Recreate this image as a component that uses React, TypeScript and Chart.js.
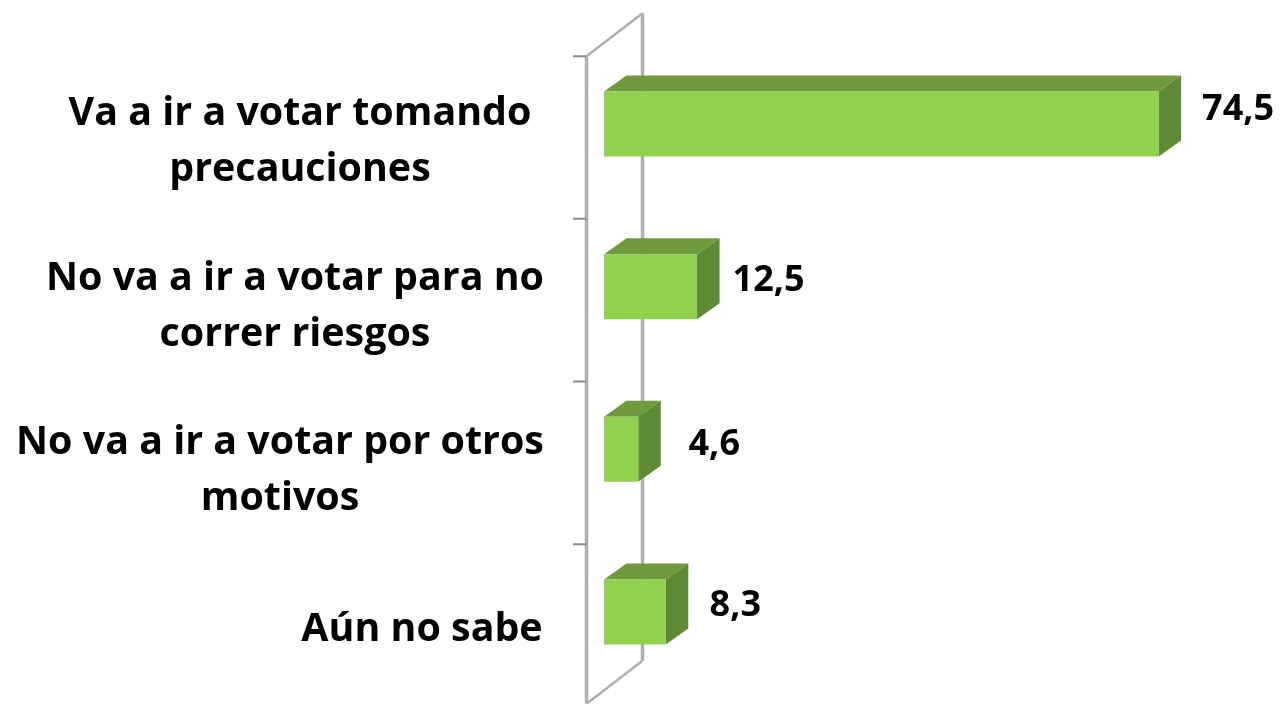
import React, { useEffect, useRef } from "react";
import { Chart, registerables } from "chart.js";

Chart.register(...registerables);

const categories: string[][] = [
  ["Va a ir a votar tomando", "precauciones"],
  ["No va a ir a votar para no", "correr riesgos"],
  ["No va a ir a votar por otros", "motivos"],
  ["Aún no sabe"],
];
const values: number[] = [74.5, 12.5, 4.6, 8.3];
const valueLabels: string[] = ["74,5", "12,5", "4,6", "8,3"];

const CAT_FONT = "bold 39.4px 'Open Sans', sans-serif";
const VALUE_FONT = "bold 36px 'Open Sans', sans-serif";
const FRONT = "#90d24f";
const TOP = "#6f9b3d";
const SIDE = "#5f8a35";
const WALL = "#b0b0b0";
const DX = 22.5;
const DY = 16;
const LABEL_CENTER_X = [79.5, 71.5, 76, 69.5];
const LABEL_DY = [-14, -6, -5, -6];
const CAT_CENTER_X = [300, 295, 280, 422];
const CAT_DY = [-10, -8, -7, 18];
const LINE_H = 56;

const box3d = {
  id: "box3d",
  beforeDatasetsDraw(chart: any) {
    const { ctx, scales } = chart;
    const y = scales.y;
    const plotTop = chart.chartArea.top;
    const frontX = 586.5;
    const backX = 642.5;
    const wallDY = 43;
    const band = (chart.chartArea.bottom - plotTop) / categories.length;
    const frontTop = plotTop + 13.5;
    const frontBottom = frontTop + band * categories.length - 3;
    ctx.save();
    ctx.strokeStyle = WALL;
    ctx.lineWidth = 3.5;
    ctx.beginPath();
    ctx.moveTo(backX, frontTop - wallDY);
    ctx.lineTo(backX, frontBottom - wallDY);
    ctx.moveTo(frontX, frontTop);
    ctx.lineTo(frontX, frontBottom);
    ctx.stroke();
    ctx.lineWidth = 2.5;
    ctx.beginPath();
    ctx.moveTo(frontX, frontTop);
    ctx.lineTo(backX, frontTop - wallDY);
    ctx.moveTo(frontX, frontBottom);
    ctx.lineTo(backX, frontBottom - wallDY);
    ctx.stroke();
    ctx.strokeStyle = "#8c8c8c";
    ctx.lineWidth = 2;
    ctx.beginPath();
    categories.forEach((_, i) => {
      const ty = y.getPixelForTick(i) - band / 2 + 13.5;
      ctx.moveTo(573, ty);
      ctx.lineTo(frontX, ty);
    });
    ctx.stroke();

    chart.getDatasetMeta(0).data.forEach((bar: any) => {
      const t = bar.y - bar.height / 2;
      const b = bar.y + bar.height / 2;
      const l = bar.base;
      const r = bar.x;
      ctx.fillStyle = TOP;
      ctx.beginPath();
      ctx.moveTo(l, t);
      ctx.lineTo(l + DX, t - DY);
      ctx.lineTo(r + DX, t - DY);
      ctx.lineTo(r, t);
      ctx.closePath();
      ctx.fill();
      ctx.fillStyle = SIDE;
      ctx.beginPath();
      ctx.moveTo(r, t);
      ctx.lineTo(r + DX, t - DY);
      ctx.lineTo(r + DX, b - DY);
      ctx.lineTo(r, b);
      ctx.closePath();
      ctx.fill();
    });
    ctx.restore();
  },
  afterDraw(chart: any) {
    const { ctx, scales } = chart;
    ctx.save();
    ctx.fillStyle = "#000000";
    ctx.textAlign = "center";
    ctx.textBaseline = "middle";
    ctx.font = CAT_FONT;
    categories.forEach((lines, i) => {
      const cy = scales.y.getPixelForTick(i) + CAT_DY[i];
      lines.forEach((line, k) => {
        ctx.fillText(line, CAT_CENTER_X[i], cy + k * LINE_H);
      });
    });
    ctx.font = VALUE_FONT;
    chart.getDatasetMeta(0).data.forEach((bar: any, i: number) => {
      ctx.fillText(valueLabels[i], bar.x + LABEL_CENTER_X[i], bar.y + LABEL_DY[i]);
    });
    ctx.restore();
  },
};

export default function App() {
  const ref = useRef<HTMLCanvasElement>(null);
  useEffect(() => {
    const chart = new Chart(ref.current!, {
      type: "bar",
      data: {
        labels: categories,
        datasets: [
          {
            data: values,
            backgroundColor: FRONT,
            borderWidth: 0,
            barPercentage: 0.4,
            categoryPercentage: 1,
          },
        ],
      },
      options: {
        indexAxis: "y",
        animation: false,
        responsive: false,
        layout: { padding: { top: 42.7, bottom: 10.7, right: 7 } },
        plugins: { legend: { display: false }, tooltip: { enabled: false } },
        scales: {
          x: { min: 0, max: 90, display: false },
          y: {
            grid: { display: false },
            border: { display: false },
            ticks: { display: false },
            afterFit(scale: any) {
              scale.width = 604;
            },
          },
        },
      },
      plugins: [box3d],
    });
    return () => chart.destroy();
  }, []);
  return (
    <canvas
      ref={ref}
      width={1281}
      height={704}
      style={{ position: "absolute", left: 0, top: 0, background: "#fff" }}
    />
  );
}
